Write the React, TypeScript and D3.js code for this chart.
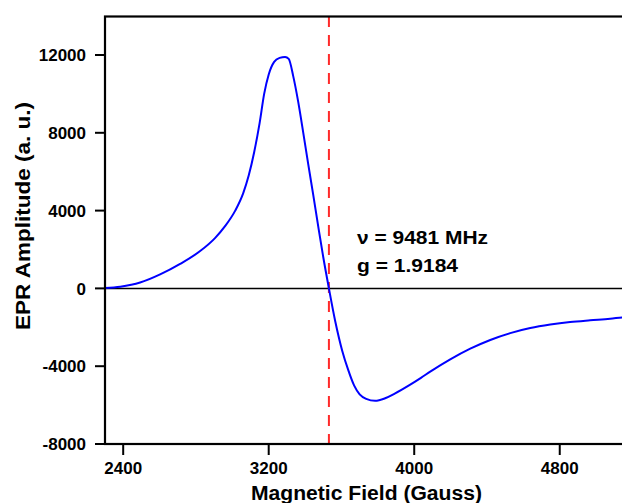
import React from "react";
import * as d3 from "d3";

const fieldG = [2300, 2384, 2493, 2603, 2713, 2823, 2906, 2960, 3016, 3060, 3090, 3120, 3150, 3175, 3200, 3230, 3260, 3290, 3310, 3335, 3362, 3390, 3417, 3445, 3472, 3500, 3531, 3566, 3604, 3637, 3670, 3700, 3736, 3785, 3840, 3895, 3978, 4037, 4088, 4198, 4308, 4418, 4528, 4638, 4748, 4857, 4967, 5077, 5143, 5250];
const amplitude = [20, 90, 300, 720, 1260, 1920, 2600, 3200, 4000, 4900, 5800, 7000, 8500, 10000, 11000, 11650, 11850, 11900, 11800, 10900, 9600, 8000, 6400, 4800, 3200, 1600, 0, -1700, -3200, -4190, -5000, -5450, -5680, -5780, -5650, -5400, -4950, -4600, -4280, -3650, -3100, -2650, -2300, -2040, -1860, -1730, -1640, -1560, -1490, -1420];
const xTicks = [2400, 3200, 4000, 4800];
const yTicks = [-8000, -4000, 0, 4000, 8000, 12000];
const resonanceField = 3531;
const annotation = ["ν = 9481 MHz", "g = 1.9184"];

export default function App() {
  const W = 622, H = 503;
  const x = d3.scaleLinear().domain([2300, 5250]).range([105, 641.6]);
  const y = d3.scaleLinear().domain([-8000, 14000]).range([444, 16.1]);
  const pts = fieldG.map((f, i) => [f, amplitude[i]] as [number, number]);
  const line = d3.line<[number, number]>().x(d => x(d[0])).y(d => y(d[1])).curve(d3.curveMonotoneX);
  const font = "Arial, 'Liberation Sans', sans-serif";
  return (
    <svg width={W} height={H} style={{ position: "absolute", left: 0, top: 0, background: "#fff" }} fontFamily={font}>
      <defs>
        <clipPath id="plot"><rect x={105} y={16} width={540} height={428} /></clipPath>
      </defs>
      <g clipPath="url(#plot)">
        <line x1={x(2300)} x2={x(5250)} y1={y(0)} y2={y(0)} stroke="#000" strokeWidth={1.5} />
        <line x1={x(resonanceField)} x2={x(resonanceField)} y1={y(14000)} y2={y(-8000)} stroke="#ff2a2a" strokeWidth={2} strokeDasharray="11,8" />
        <path d={line(pts) || ""} fill="none" stroke="#0000ff" strokeWidth={2} />
      </g>
      <rect x={105} y={16.5} width={560} height={427.5} fill="none" stroke="#000" strokeWidth={2.2} />
      {yTicks.map(t => (
        <g key={t}>
          <line x1={95} x2={105} y1={y(t)} y2={y(t)} stroke="#000" strokeWidth={2} />
          <text x={86} y={y(t)} dy="0.36em" textAnchor="end" fontSize={17} fontWeight="bold">{t}</text>
        </g>
      ))}
      {xTicks.map(t => (
        <g key={t}>
          <line x1={x(t)} x2={x(t)} y1={444} y2={455} stroke="#000" strokeWidth={2} />
          <text x={x(t)} y={474} textAnchor="middle" fontSize={17} fontWeight="bold">{t}</text>
        </g>
      ))}
      <text x={251} y={500} fontSize={20} fontWeight="bold" textLength={231} lengthAdjust="spacingAndGlyphs">Magnetic Field (Gauss)</text>
      <text transform="translate(30,330) rotate(-90)" fontSize={20} fontWeight="bold" textLength={228} lengthAdjust="spacingAndGlyphs">EPR Amplitude (a. u.)</text>
      <text x={357} y={244} fontSize={19} fontWeight="bold" textLength={131} lengthAdjust="spacingAndGlyphs">{annotation[0]}</text>
      <text x={357} y={272} fontSize={19} fontWeight="bold" textLength={101} lengthAdjust="spacingAndGlyphs">{annotation[1]}</text>
    </svg>
  );
}
